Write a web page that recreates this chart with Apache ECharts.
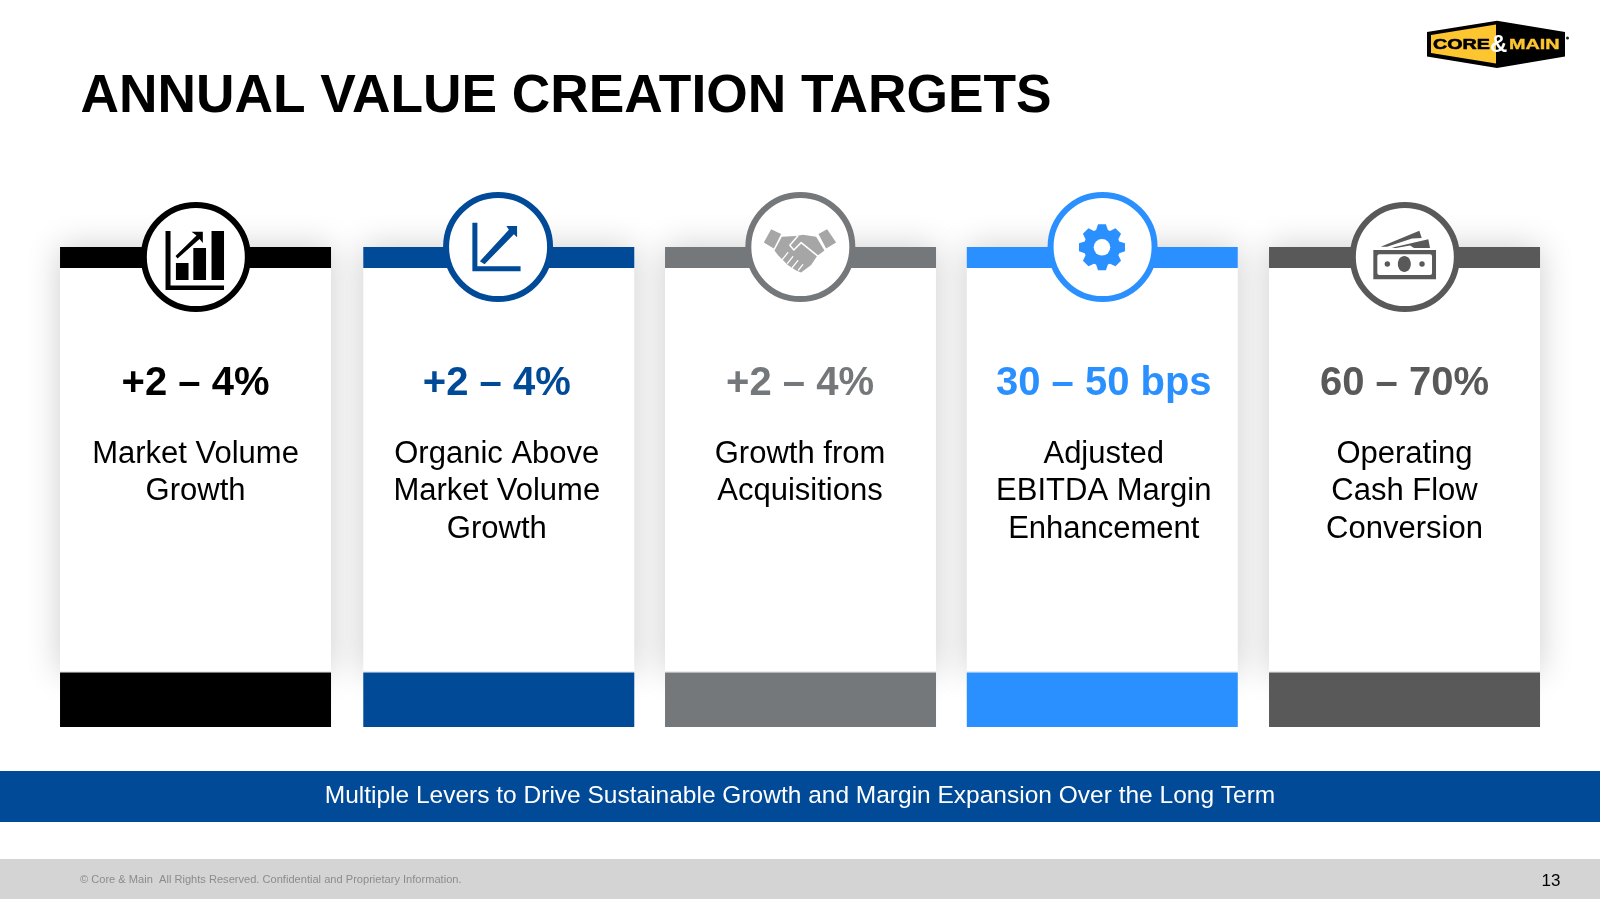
<!DOCTYPE html>
<html>
<head>
<meta charset="utf-8">
<title>Annual Value Creation Targets</title>
<script src="https://cdn.jsdelivr.net/npm/echarts@6/dist/echarts.min.js"></script>
<style>
  html, body { margin: 0; padding: 0; background: #fff; }
  #main { width: 1600px; height: 900px; }
</style>
</head>
<body>
<div id="main"></div>
<script>
// chart content
var categories = ['Market Volume Growth', 'Organic Above Market Volume Growth', 'Growth from Acquisitions', 'Adjusted EBITDA Margin Enhancement', 'Operating Cash Flow Conversion'];
var targets = ['+2 – 4%', '+2 – 4%', '+2 – 4%', '30 – 50 bps', '60 – 70%'];
var descLines = [
  ['Market Volume', 'Growth'],
  ['Organic Above', 'Market Volume', 'Growth'],
  ['Growth from', 'Acquisitions'],
  ['Adjusted', 'EBITDA Margin', 'Enhancement'],
  ['Operating', 'Cash Flow', 'Conversion']
];
var iconNames = ['bars', 'arrow', 'hands', 'gear', 'money'];
var titleText = 'ANNUAL VALUE CREATION TARGETS';
var bandText = 'Multiple Levers to Drive Sustainable Growth and Margin Expansion Over the Long Term';
var footerText = '© Core & Main  All Rights Reserved. Confidential and Proprietary Information.';
var pageNumber = '13';

var colors = ['#000000', '#004a97', '#75787b', '#2b90ff', '#595959'];
var circleDrop = [10, 0, 0, 0, 10];
var cardNudge = [0, 1, 0.5, 0, 0];
var textNudge = [0, -1, 0, 1.5, 0];
var fontName = '"Liberation Sans", Arial, sans-serif';

// gear outline, 8 teeth
function gearPath() {
  var d = '';
  var n = 8;
  var step = 2 * Math.PI / n;
  for (var i = 0; i < n; i++) {
    var a = i * step - Math.PI / 2;
    var pts = [[23, a - 0.17], [23, a + 0.17], [18, a + 0.33], [18, a + step - 0.33]];
    pts.forEach(function (p, j) {
      d += ((i === 0 && j === 0) ? 'M' : 'L') + (23 + p[0] * Math.cos(p[1])).toFixed(2) + ' ' + (23 + p[0] * Math.sin(p[1])).toFixed(2) + ' ';
    });
  }
  return d + 'Z';
}

function pathEl(pathData, x, y, w, h, fill) {
  return { type: 'path', shape: { pathData: pathData, x: x, y: y, width: w, height: h, layout: 'cover' }, style: { fill: fill } };
}

function lineEl(points, color, width) {
  return { type: 'polyline', shape: { points: points }, style: { fill: null, stroke: color, lineWidth: width, lineCap: 'round', lineJoin: 'round' } };
}

function iconEls(name, cx, cy, color) {
  if (name === 'bars') {
    return [pathEl('M0 0H5V54.5H58.5V59H0Z M10.4 32H23V49H10.4Z M27.8 17H40.5V49H27.8Z M46 0H58.5V49H46Z M26 .7H37.3V12L34 8L12 27.5L10 25L31 4.5Z', cx - 30, cy - 26, 58.5, 59, color)];
  }
  if (name === 'arrow') {
    return [pathEl('M0 0H5V43.6H48.2V48.6H0Z M34 3.3H44.7V14.6L41.5 11.5L12.2 41.6L7.5 38.5L36.5 7Z', cx - 25.4, cy - 24.3, 48.2, 48.6, color)];
  }
  if (name === 'hands') {
    var gx = cx - 36.2, gy = cy - 17.7;
    var els = [pathEl('M50 28L80 42L58 86L28 68Z M218 28L245 68L215 86L192 42Z M82 50L125 48L145 44L185 50L210 92L188 108L170 135L150 150L140 158L125 152L100 135L70 105L60 92Z', gx, gy, 72.3, 43.3, '#a6a6a6')];
    var shift = function (pts) { return pts.map(function (p) { return [gx + (p[0] - 28) / 3, gy + (p[1] - 28) / 3]; }); };
    els.push(lineEl(shift([[130, 48], [106, 76], [118, 90], [140, 68], [192, 110]]), '#fff', 1.5));
    els.push(lineEl(shift([[100, 98], [84, 118]]), '#fff', 1.3));
    els.push(lineEl(shift([[115, 110], [99, 130]]), '#fff', 1.3));
    els.push(lineEl(shift([[130, 122], [114, 142]]), '#fff', 1.3));
    els.push(lineEl(shift([[145, 134], [132, 150]]), '#fff', 1.3));
    return els;
  }
  if (name === 'gear') {
    return [
      pathEl(gearPath(), cx - 23.3, cy - 22.7, 46, 46, color),
      { type: 'circle', shape: { cx: cx - 0.3, cy: cy + 0.3, r: 8.3 }, style: { fill: '#fff' } }
    ];
  }
  // money
  var mx = cx - 31.2, my = cy - 7;
  return [
    pathEl('M0 16L38.6 0L41 7.3L31.3 7.8L6.3 16Z M11 17L47.6 8.6L49.3 17.3H33.3L29.3 14.8L15.3 17.3Z', cx - 23.8, cy - 26.3, 49.3, 17.3, color),
    { type: 'rect', shape: { x: mx, y: my, width: 62.7, height: 29.3 }, style: { fill: color } },
    { type: 'rect', shape: { x: mx + 4, y: my + 4.3, width: 54.7, height: 20.7, r: 2 }, style: { fill: '#fff' } },
    { type: 'ellipse', shape: { cx: mx + 31, cy: my + 14, rx: 6.5, ry: 8 }, style: { fill: color } },
    { type: 'circle', shape: { cx: mx + 14, cy: my + 14, r: 2.7 }, style: { fill: color } },
    { type: 'circle', shape: { cx: mx + 48.7, cy: my + 14, r: 2.7 }, style: { fill: color } }
  ];
}

function renderShadow(params, api) {
  var i = api.value(0);
  var top = api.coord([i, 1]);
  var w = api.size([1, 0])[0] * 0.8966;
  return {
    type: 'rect',
    shape: { x: top[0] - w / 2 + cardNudge[i], y: top[1], width: w, height: 426 },
    style: { fill: '#fff', shadowBlur: 32, shadowColor: 'rgba(0,0,0,0.2)' }
  };
}

function renderCard(params, api) {
  var i = api.value(0);
  var top = api.coord([i, 1]);
  var bottom = api.coord([i, 0]);
  var cx = top[0];
  var w = api.size([1, 0])[0] * 0.8966;
  var left = cx - w / 2 + cardNudge[i];
  var color = colors[i];
  var cy = top[1] + circleDrop[i];
  var tx = cx + textNudge[i];
  var children = [
    { type: 'rect', shape: { x: left, y: top[1], width: w, height: 21 }, style: { fill: color } },
    { type: 'rect', shape: { x: left, y: bottom[1] - 56, width: w, height: 1.5 }, style: { fill: '#ececec' } },
    { type: 'rect', shape: { x: left, y: bottom[1] - 54.5, width: w, height: 54.5 }, style: { fill: color } },
    { type: 'circle', shape: { cx: cx + 0.3, cy: cy, r: 52 }, style: { fill: '#fff', stroke: color, lineWidth: 6 } }
  ];
  children = children.concat(iconEls(iconNames[i], cx, cy, color));
  children.push({
    type: 'text',
    style: { text: targets[i], x: tx, y: 384, align: 'center', verticalAlign: 'middle', font: 'bold 40px ' + fontName, fill: color }
  });
  descLines[i].forEach(function (line, j) {
    children.push({
      type: 'text',
      style: { text: line, x: tx, y: 454 + j * 37.5, align: 'center', verticalAlign: 'middle', font: '31px ' + fontName, fill: '#000' }
    });
  });
  return { type: 'group', children: children };
}

var myChart = echarts.init(document.getElementById('main'));

var option = {
  animation: false,
  backgroundColor: '#fff',
  grid: { left: 44.4, width: 1511.25, top: 247, height: 480 },
  xAxis: { type: 'category', data: categories, show: false },
  yAxis: { type: 'value', min: 0, max: 1, show: false },
  series: [
    { type: 'custom', silent: true, z: 1, renderItem: renderShadow, data: categories.map(function (c, i) { return [i]; }), encode: { x: 0 } },
    { type: 'custom', silent: true, z: 2, renderItem: renderCard, data: categories.map(function (c, i) { return [i]; }), encode: { x: 0 } }
  ],
  graphic: [
    { type: 'text', x: 80.5, y: 97, style: { text: titleText, verticalAlign: 'middle', font: 'bold 53.3px ' + fontName, fill: '#000' } },
    { type: 'rect', shape: { x: 0, y: 771, width: 1600, height: 51 }, style: { fill: '#004a97' } },
    { type: 'text', x: 800, y: 796.5, style: { text: bandText, align: 'center', verticalAlign: 'middle', font: '24.5px ' + fontName, fill: '#fff' } },
    { type: 'rect', shape: { x: 0, y: 859, width: 1600, height: 40 }, style: { fill: '#d4d4d4' } },
    { type: 'text', x: 80, y: 880, scaleX: 0.964, style: { text: footerText, verticalAlign: 'middle', font: '11.5px ' + fontName, fill: '#8c8c8c' } },
    { type: 'text', x: 1551, y: 881, style: { text: pageNumber, align: 'center', verticalAlign: 'middle', font: '17px ' + fontName, fill: '#000' } },
    // logo
    { type: 'polygon', shape: { points: [[1427, 32], [1497, 20.7], [1565, 32], [1565, 56.5], [1497, 68], [1427, 56.5]] }, style: { fill: '#000' } },
    { type: 'polygon', shape: { points: [[1431, 35], [1496, 24.5], [1496, 63.5], [1431, 53]] }, style: { fill: '#fdc52f' } },
    { type: 'text', x: 1433, y: 44.7, scaleX: 1.27, style: { text: 'CORE', verticalAlign: 'middle', font: 'bold 15.5px ' + fontName, fill: '#000', stroke: '#000', lineWidth: 0.6 } },
    { type: 'text', x: 1490, y: 45, style: { text: '&', verticalAlign: 'middle', font: 'bold 24px ' + fontName, fill: '#fff' } },
    { type: 'text', x: 1509, y: 44.7, scaleX: 1.28, style: { text: 'MAIN', verticalAlign: 'middle', font: 'bold 15.5px ' + fontName, fill: '#fdc52f', stroke: '#fdc52f', lineWidth: 0.4 } },
    { type: 'circle', shape: { cx: 1567.5, cy: 38, r: 1.5 }, style: { fill: '#222' } }
  ]
};

myChart.setOption(option);
</script>
</body>
</html>
